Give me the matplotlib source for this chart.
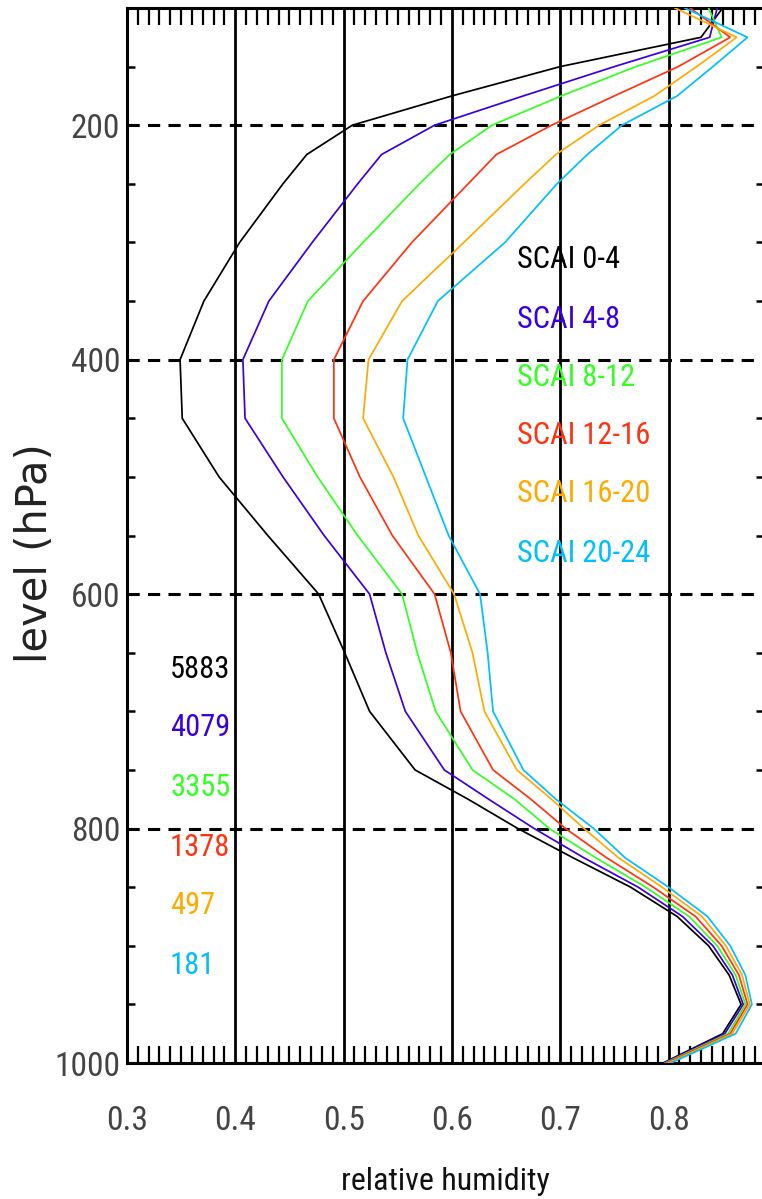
import matplotlib
matplotlib.use('Agg')
import matplotlib.pyplot as plt
from matplotlib import font_manager
from matplotlib.ticker import MultipleLocator, FixedLocator, FixedFormatter

# ---------------- data ----------------
levels = [100, 125, 150, 175, 200, 225, 250, 300, 350, 400, 450, 500, 550,
          600, 650, 700, 750, 775, 800, 825, 850, 875, 900, 925, 950, 975, 1000]

rh_scai_0_4 = [0.850, 0.830, 0.700, 0.600, 0.508, 0.466, 0.444, 0.404, 0.371,
               0.349, 0.351, 0.385, 0.430, 0.477, 0.501, 0.524, 0.566, 0.615,
               0.661, 0.712, 0.765, 0.808, 0.837, 0.856, 0.867, 0.850, 0.795]
rh_scai_4_8 = [0.845, 0.838, 0.750, 0.666, 0.584, 0.535, 0.513, 0.471, 0.431,
               0.407, 0.409, 0.444, 0.482, 0.524, 0.539, 0.557, 0.593, 0.634,
               0.676, 0.722, 0.772, 0.813, 0.841, 0.859, 0.869, 0.852, 0.796]
rh_scai_8_12 = [0.837, 0.849, 0.770, 0.701, 0.637, 0.598, 0.570, 0.518, 0.467,
                0.443, 0.443, 0.476, 0.513, 0.554, 0.568, 0.585, 0.619, 0.658,
                0.690, 0.733, 0.779, 0.819, 0.845, 0.862, 0.871, 0.855, 0.797]
rh_scai_12_16 = [0.820, 0.857, 0.809, 0.750, 0.692, 0.641, 0.615, 0.563, 0.518,
                 0.491, 0.491, 0.515, 0.545, 0.584, 0.599, 0.608, 0.638, 0.673,
                 0.705, 0.743, 0.786, 0.825, 0.849, 0.865, 0.873, 0.857, 0.798]
rh_scai_16_20 = [0.806, 0.863, 0.826, 0.787, 0.736, 0.696, 0.667, 0.611, 0.554,
                 0.523, 0.518, 0.546, 0.569, 0.602, 0.619, 0.630, 0.660, 0.692,
                 0.722, 0.754, 0.794, 0.831, 0.853, 0.868, 0.875, 0.859, 0.800]
rh_scai_20_24 = [0.815, 0.873, 0.841, 0.808, 0.757, 0.725, 0.697, 0.649, 0.587,
                 0.559, 0.555, 0.576, 0.597, 0.626, 0.633, 0.638, 0.666, 0.696,
                 0.731, 0.760, 0.800, 0.836, 0.857, 0.871, 0.877, 0.862, 0.802]

series = [rh_scai_0_4, rh_scai_4_8, rh_scai_8_12,
          rh_scai_12_16, rh_scai_16_20, rh_scai_20_24]
labels = ['SCAI 0-4', 'SCAI 4-8', 'SCAI 8-12', 'SCAI 12-16', 'SCAI 16-20', 'SCAI 20-24']
counts = ['5883', '4079', '3355', '1378', '497', '181']
colors = ['#000000', '#3a00e0', '#33ff22', '#ff3311', '#ffaa00', '#00bfff']

x_ticks = [0.3, 0.4, 0.5, 0.6, 0.7, 0.8]
x_ticklabels = ['0.3', '0.4', '0.5', '0.6', '0.7', '0.8']
y_ticks = [200, 400, 600, 800, 1000]
y_ticklabels = ['200', '400', '600', '800', '1000']

# ---------------- fonts ----------------
names = {f.name for f in font_manager.fontManager.ttflist}
narrow = 'DejaVu Sans'
for cand in ['Liberation Sans Narrow', 'Roboto Condensed', 'Open Sans Condensed',
             'Liberation Sans']:
    if cand in names:
        narrow = cand
        break

# ---------------- figure ----------------
W, H = 762, 1199
fig = plt.figure(figsize=(W / 100, H / 100), dpi=100)
left_px, right_px, top_px, bot_px = 127, 764, 8, 1063
ax = fig.add_axes([left_px / W, 1 - bot_px / H,
                   (right_px - left_px) / W, (bot_px - top_px) / H])

for vals, col in zip(series, colors):
    ax.plot(vals, levels, color=col, lw=1.25, zorder=3, solid_joinstyle='miter')

ax.set_xlim(0.3, 0.3 + (right_px - left_px) / 1083.0)
ax.set_ylim(1000, 100)

ax.xaxis.set_major_locator(FixedLocator(x_ticks))
ax.xaxis.set_major_formatter(FixedFormatter(x_ticklabels))
ax.xaxis.set_minor_locator(MultipleLocator(0.01))
ax.yaxis.set_major_locator(FixedLocator(y_ticks))
ax.yaxis.set_major_formatter(FixedFormatter(y_ticklabels))
ax.yaxis.set_minor_locator(MultipleLocator(50))

ax.xaxis.grid(True, which='major', color='black', lw=2.0, ls='-', zorder=1)
ax.yaxis.grid(True, which='major', color='black', lw=2.2, ls=(0, (4.0, 2.7)), zorder=1)
ax.set_axisbelow(True)

ax.tick_params(axis='x', which='major', length=0, pad=30, labelsize=24,
               labelcolor='#444444')
ax.tick_params(axis='x', which='minor', direction='in', length=12, width=1.6,
               top=True, bottom=True)
ax.tick_params(axis='y', which='major', length=0, pad=5, labelsize=24,
               labelcolor='#444444')
ax.tick_params(axis='y', which='minor', direction='in', length=6, width=1.8,
               left=True, right=True)
for lab in ax.get_xticklabels() + ax.get_yticklabels():
    lab.set_fontfamily(narrow)

for sp in ax.spines.values():
    sp.set_linewidth(2.2)
    sp.set_color('black')

ax.set_xlabel('relative humidity', fontsize=23, family=narrow, color='#111111',
              labelpad=22)
fig.text(35 / W, 1 - 553 / H, 'level (hPa)', rotation=90, ha='center', va='center',
         fontsize=30, family='DejaVu Sans', color='#222222')

# legend texts (figure pixel positions)
leg_y = [259, 319, 378, 436, 494, 553]
cnt_y = [669, 728, 787, 847, 906, 966]
for lab, cnt, col, ly, cy in zip(labels, counts, colors, leg_y, cnt_y):
    fig.text(517 / W, 1 - ly / H, lab, ha='left', va='center', fontsize=22,
             family=narrow, color=col)
    fig.text(170 / W, 1 - cy / H, cnt, ha='left', va='center', fontsize=22,
             family=narrow, color=col)

fig.savefig('out.png', dpi=100)
